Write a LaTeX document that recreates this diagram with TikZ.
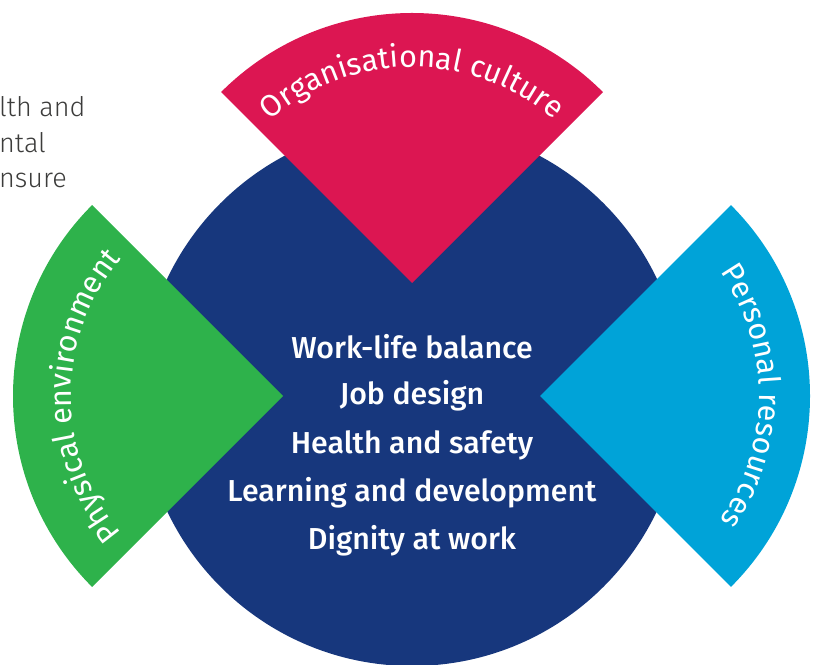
\documentclass[tikz,border=0pt]{standalone}
\usepackage{fontspec}
\setmainfont{Fira Sans}
\newfontfamily\MedFnt{Fira Sans}[UprightFont=* Medium]
\newfontfamily\LightFnt{Fira Sans}[UprightFont=* Light]
\usetikzlibrary{decorations.text,calc}
\definecolor{navyc}{RGB}{23,55,125}
\definecolor{pinkc}{RGB}{220,22,82}
\definecolor{greenc}{RGB}{46,178,75}
\definecolor{cyanc}{RGB}{0,163,216}
\definecolor{greyc}{RGB}{60,60,59}
\newcommand\ArcFnt{\fontsize{30.5}{36}\selectfont}
\tikzset{
  midtext/.style={anchor=base, text=white, font=\MedFnt\fontsize{30.3}{36}\selectfont, inner sep=0pt},
  sidetext/.style={anchor=base west, text=greyc, font=\LightFnt\fontsize{27}{33}\selectfont, inner sep=0pt},
  arctext/.style={decorate, decoration={text along path, text align=center, text color=white}}
}
\begin{document}
\begin{tikzpicture}[x=1pt,y=1pt]
\useasboundingbox (0,0) rectangle (819,664);
% top-left cut text
\node[sidetext] (t1) at (-1,547) {lth and};
\node[sidetext] (t2) at (-1,511) {ntal};
\node[sidetext] (t3) at (-1,476) {nsure};
% central circle
\coordinate (c) at (412,269);
\fill[navyc] (c) circle[radius=271];
% sectors
\coordinate (pa) at (412,381);
\coordinate (ga) at (283,268);
\coordinate (ba) at (540,268);
\fill[pinkc] (pa) -- ++(45:270) arc[start angle=45,end angle=135,radius=270] -- cycle;
\fill[greenc] (ga) -- ++(135:270) arc[start angle=135,end angle=225,radius=270] -- cycle;
\fill[cyanc] (ba) -- ++(-45:270) arc[start angle=-45,end angle=45,radius=270] -- cycle;
% arc labels
\path[arctext, decoration={text={|\ArcFnt|Organisational culture}}]
  ($(pa)+(160:216)$) arc[start angle=160,end angle=20,radius=216];
\path[arctext, decoration={text={|\ArcFnt|Physical environment}}]
  ($(ga)+(250:212)$) arc[start angle=250,end angle=110,radius=212];
\path[arctext, decoration={text={|\ArcFnt|Personal resources}}]
  ($(ba)+(70:219)$) arc[start angle=70,end angle=-70,radius=219];
% central labels
\node[midtext] (m1) at (412,305.7) {Work-life balance};
\node[midtext] (m2) at (412,259) {Job design};
\node[midtext] (m3) at (412,210.7) {Health and safety};
\node[midtext] (m4) at (412,162.3) {Learning and development};
\node[midtext] (m5) at (412,114) {Dignity at work};
\end{tikzpicture}
\end{document}
